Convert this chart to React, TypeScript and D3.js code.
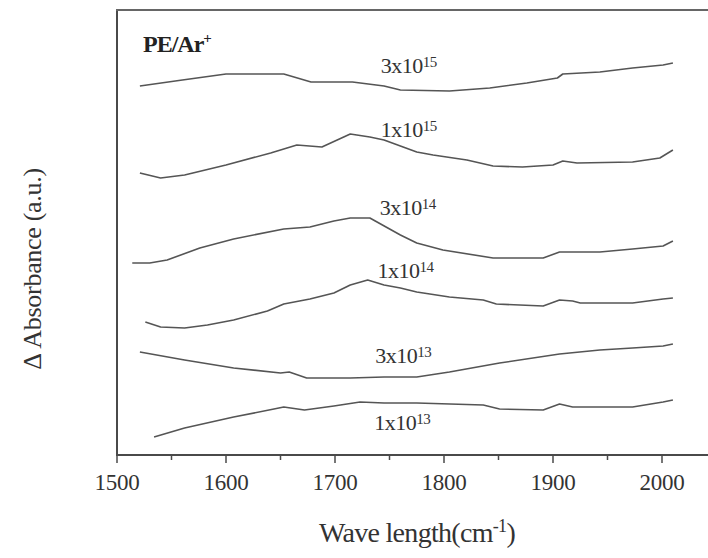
import React, { useEffect, useRef } from 'react';
import * as d3 from 'd3';

// wave numbers (cm-1) and delta absorbance (a.u.), one pair per dose
const wn3e15 = [1521, 1560, 1600, 1641, 1653, 1678, 1716, 1745, 1760, 1805, 1842, 1876, 1904, 1909, 1943, 1973, 2001, 2010];
const ab3e15 = [36.9, 37.5, 38.1, 38.1, 38.1, 37.3, 37.3, 36.9, 36.5, 36.4, 36.7, 37.2, 37.7, 38.1, 38.3, 38.7, 39.0, 39.2];

const wn1e15 = [1521, 1540, 1562, 1600, 1641, 1665, 1688, 1714, 1732, 1745, 1775, 1790, 1821, 1845, 1872, 1900, 1909, 1922, 1973, 1998, 2010];
const ab1e15 = [28.2, 27.7, 28.0, 29.0, 30.2, 31.0, 30.8, 32.1, 31.8, 31.5, 30.3, 30.0, 29.5, 28.9, 28.8, 29.0, 29.4, 29.2, 29.3, 29.7, 30.5];

const wn3e14 = [1514, 1530, 1546, 1576, 1607, 1653, 1677, 1699, 1714, 1732, 1760, 1775, 1799, 1845, 1891, 1906, 1943, 1973, 2001, 2010];
const ab3e14 = [19.2, 19.2, 19.5, 20.7, 21.6, 22.6, 22.8, 23.4, 23.7, 23.7, 22.0, 21.2, 20.5, 19.7, 19.7, 20.3, 20.3, 20.6, 20.9, 21.4];

const wn1e14 = [1526, 1540, 1562, 1583, 1607, 1638, 1653, 1677, 1699, 1714, 1730, 1745, 1760, 1775, 1805, 1836, 1848, 1891, 1906, 1918, 1925, 1973, 2001, 2010];
const ab1e14 = [13.3, 12.8, 12.7, 13.0, 13.5, 14.4, 15.1, 15.6, 16.2, 17.0, 17.5, 17.0, 16.7, 16.3, 15.8, 15.5, 15.1, 14.9, 15.5, 15.4, 15.2, 15.2, 15.6, 15.7];

const wn3e13 = [1521, 1562, 1607, 1650, 1658, 1674, 1714, 1745, 1775, 1805, 1851, 1906, 1943, 1973, 2001, 2010];
const ab3e13 = [10.3, 9.5, 8.7, 8.2, 8.3, 7.7, 7.7, 7.8, 7.8, 8.3, 9.2, 10.1, 10.5, 10.7, 10.9, 11.1];

const wn1e13 = [1534, 1562, 1607, 1644, 1653, 1672, 1699, 1723, 1745, 1775, 1836, 1851, 1891, 1906, 1918, 1973, 2001, 2010];
const ab1e13 = [1.8, 2.7, 3.8, 4.6, 4.8, 4.5, 4.9, 5.3, 5.2, 5.2, 5.0, 4.6, 4.5, 5.1, 4.8, 4.8, 5.3, 5.5];

// dose labels: mantissa, exponent, and where they sit (data coords)
const doseBase = ['3x10', '1x10', '3x10', '1x10', '3x10', '1x10'];
const doseExp = ['15', '15', '14', '14', '13', '13'];
const labelWn = [1742, 1742, 1741, 1739, 1737, 1736];
const labelAb = [38.2, 31.8, 24.0, 17.7, 9.2, 2.5];

const majorTicks = [1500, 1600, 1700, 1800, 1900, 2000];
const minorTicks = [1550, 1650, 1750, 1850, 1950];

const App = () => {
  const chart = useRef<SVGSVGElement>(null);
  const W = 708;
  const H = 558;

  useEffect(() => {
    const svg = d3.select(chart.current);
    svg.selectAll('*').remove();

    const x = d3.scaleLinear().domain([1500, 2000]).range([117, 662]);
    const y = d3.scaleLinear().domain([0, 44.5]).range([455, 10]);
    const ink = '#4a4a4a';
    const serif = '"Liberation Serif", "Times New Roman", serif';

    svg.append('rect').attr('width', W).attr('height', H).attr('fill', '#fff');

    // frame: left, bottom, top (right side runs off the picture)
    svg.append('line').attr('x1', 117).attr('x2', 117).attr('y1', 10).attr('y2', 456)
      .attr('stroke', ink).attr('stroke-width', 2);
    svg.append('line').attr('x1', 116).attr('x2', W).attr('y1', 455).attr('y2', 455)
      .attr('stroke', ink).attr('stroke-width', 2);
    svg.append('line').attr('x1', 116).attr('x2', W).attr('y1', 10).attr('y2', 10)
      .attr('stroke', '#666').attr('stroke-width', 2);

    svg.selectAll('.major').data(majorTicks).enter().append('line')
      .attr('x1', d => x(d)).attr('x2', d => x(d)).attr('y1', 455).attr('y2', 463)
      .attr('stroke', ink).attr('stroke-width', 1.5);
    svg.selectAll('.minor').data(minorTicks).enter().append('line')
      .attr('x1', d => x(d)).attr('x2', d => x(d)).attr('y1', 455).attr('y2', 460)
      .attr('stroke', ink).attr('stroke-width', 1.5);

    svg.selectAll('.tlab').data(majorTicks).enter().append('text')
      .attr('x', d => x(d)).attr('y', 490)
      .attr('text-anchor', 'middle')
      .attr('font-family', serif).attr('font-size', 23).attr('letter-spacing', -0.3)
      .attr('fill', '#333')
      .text(d => d);

    const xt = svg.append('text').attr('x', 417).attr('y', 542)
      .attr('text-anchor', 'middle').attr('font-family', serif).attr('font-size', 28)
      .attr('letter-spacing', -0.7).attr('fill', '#333');
    xt.append('tspan').text('Wave length(cm');
    xt.append('tspan').attr('font-size', 18).attr('dy', -10).text('-1');
    xt.append('tspan').attr('dy', 10).text(')');

    svg.append('text').attr('transform', 'translate(41,269) rotate(-90)')
      .attr('text-anchor', 'middle').attr('font-family', serif).attr('font-size', 26)
      .attr('letter-spacing', -0.3).attr('fill', '#333')
      .text('\u0394 Absorbance (a.u.)');

    const pe = svg.append('text').attr('x', 143).attr('y', 52)
      .attr('font-family', serif).attr('font-size', 24).attr('font-weight', 'bold')
      .attr('letter-spacing', -1).attr('fill', '#222');
    pe.append('tspan').text('PE/Ar');
    pe.append('tspan').attr('font-size', 15).attr('dy', -9).text('+');

    const series = [
      [wn3e15, ab3e15], [wn1e15, ab1e15], [wn3e14, ab3e14],
      [wn1e14, ab1e14], [wn3e13, ab3e13], [wn1e13, ab1e13],
    ];

    series.forEach(([w, a]) => {
      const pts = w.map((v, i) => [x(v), y(a[i])] as [number, number]);
      svg.append('path')
        .attr('d', d3.line()(pts))
        .attr('fill', 'none').attr('stroke', '#555').attr('stroke-width', 1.6)
        .attr('stroke-linejoin', 'round');
    });

    doseBase.forEach((b, i) => {
      const t = svg.append('text').attr('x', x(labelWn[i])).attr('y', y(labelAb[i]))
        .attr('font-family', serif).attr('font-size', 22).attr('letter-spacing', -0.5)
        .attr('fill', '#333');
      t.append('tspan').text(b);
      t.append('tspan').attr('font-size', 15).attr('dy', -6).text(doseExp[i]);
    });
  }, []);

  return (
    <svg ref={chart} width={W} height={H} style={{ position: 'absolute', left: 0, top: 0 }} />
  );
};

export default App;
